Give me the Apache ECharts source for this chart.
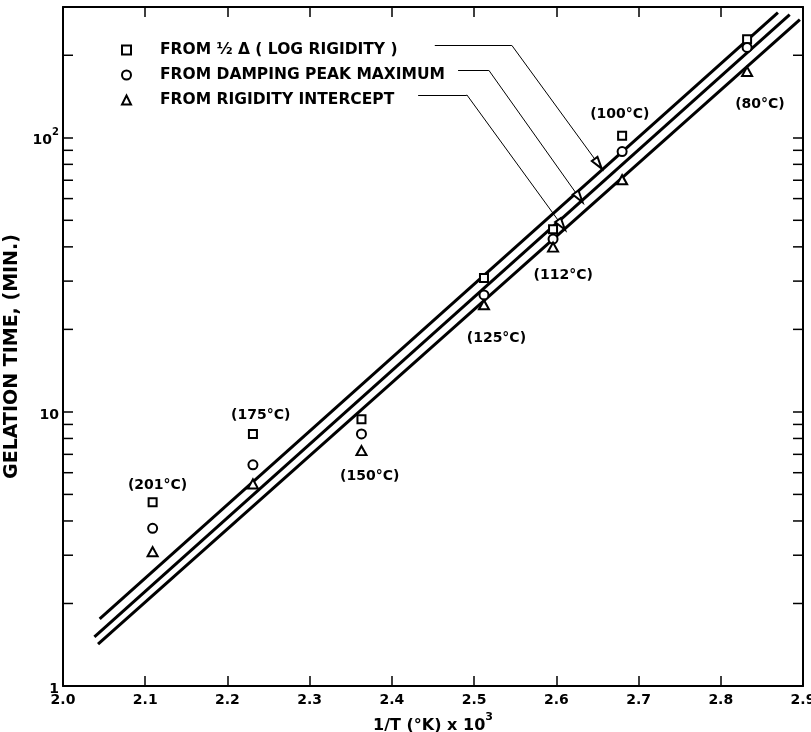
<!DOCTYPE html>
<html>
<head>
<meta charset="utf-8">
<script src="https://cdn.jsdelivr.net/npm/echarts@6/dist/echarts.min.js"></script>
<style>html,body{margin:0;padding:0;background:#fff}#c{width:811px;height:732px}</style>
</head>
<body>
<div id="c"></div>
<script>
// ---- data ----
const xTickValues = [2.0, 2.1, 2.2, 2.3, 2.4, 2.5, 2.6, 2.7, 2.8, 2.9];
const yMajorTicks = [1, 10, 100];
const yMinorTicks = [2, 3, 4, 5, 6, 7, 8, 9, 20, 30, 40, 50, 60, 70, 80, 90, 200];
const temperatures = ['(201°C)', '(175°C)', '(150°C)', '(125°C)', '(112°C)', '(100°C)', '(80°C)'];
const invT = [2.109, 2.231, 2.363, 2.512, 2.596, 2.680, 2.832];
const logRigidity = [4.68, 8.31, 9.4, 30.8, 46.4, 101.7, 229];
const dampingPeak = [3.76, 6.41, 8.31, 26.7, 42.7, 89.1, 213.6];
const rigidityIntercept = [3.09, 5.46, 7.22, 24.6, 39.9, 70.3, 174.6];
const fitLogRigidityX = [2.0446, 2.8695], fitLogRigidityY = [1.756, 285.9];
const fitDampingX = [2.0382, 2.8838], fitDampingY = [1.51, 281.2];
const fitInterceptX = [2.0426, 2.8962], fitInterceptY = [1.423, 269.6];
const tempLabelX = [2.115, 2.2405, 2.3731, 2.5271, 2.6083, 2.6772, 2.8476];
const tempLabelY = [5.41, 9.69, 5.81, 18.58, 31.6, 121.3, 131.9];
const leader1 = [[2.4522, 217.3], [2.5459, 217.3], [2.6509, 80.4]];
const leader2 = [[2.4805, 176.3], [2.5179, 176.3], [2.6277, 60.6]];
const leader3 = [[2.4319, 143.5], [2.4911, 143.5], [2.6063, 48.1]];
const seriesNames = ['FROM ½ Δ ( LOG RIGIDITY )', 'FROM DAMPING PEAK MAXIMUM', 'FROM RIGIDITY INTERCEPT'];
const xAxisTitle = ['1/T (°K) x 10', '3'];
const yAxisTitle = 'GELATION TIME, (MIN.)';

// ---- chart ----
const F = 'DejaVu Sans';
const chart = echarts.init(document.getElementById('c'), null, {renderer: 'canvas'});
const pair = (xs, ys) => xs.map((x, i) => [x, ys[i]]);
const axisLineStyle = {color: '#000', width: 2};
const tickStyle = {color: '#000', width: 1.5};

function leaderLines(pts) {
  return [
    [{coord: pts[0], symbol: 'none'}, {coord: pts[1], symbol: 'none'}],
    [{coord: pts[1], symbol: 'none'}, {coord: pts[2], symbol: 'emptyTriangle', symbolSize: [7, 12]}]
  ];
}

const option = {
  animation: false,
  backgroundColor: '#fff',
  grid: {left: 63, right: 8, top: 7, bottom: 46, outerBoundsMode: 'none', containLabel: false},
  legend: {
    show: true, orient: 'vertical', left: 116, top: 37,
    itemWidth: 9, itemHeight: 9, itemGap: 9,
    symbolKeepAspect: true,
    data: seriesNames,
    selectedMode: false,
    textStyle: {fontFamily: F, fontWeight: 'bold', fontSize: 15.5, color: '#000', padding: [0, 0, 0, 24]}
  },
  xAxis: [
    {
      type: 'value', min: 2.0, max: 2.9, interval: 0.1, position: 'bottom',
      axisLine: {show: true, onZero: false, lineStyle: axisLineStyle},
      axisTick: {show: true, inside: true, length: 10, lineStyle: tickStyle},
      axisLabel: {show: true, margin: 7, fontFamily: F, fontWeight: 'bold', fontSize: 14, color: '#000',
        formatter: v => v.toFixed(1)},
      splitLine: {show: false},
      name: '{b|' + xAxisTitle[0] + '}{s|' + xAxisTitle[1] + '}',
      nameLocation: 'middle', nameGap: 23,
      nameTextStyle: {
        rich: {
          b: {fontFamily: F, fontWeight: 'bold', fontSize: 16, color: '#000', lineHeight: 22, verticalAlign: 'bottom'},
          s: {fontFamily: F, fontWeight: 'bold', fontSize: 11, color: '#000', lineHeight: 12, verticalAlign: 'top'}
        }
      }
    },
    {
      type: 'value', min: 2.0, max: 2.9, interval: 0.1, position: 'top',
      axisLine: {show: true, onZero: false, lineStyle: axisLineStyle},
      axisTick: {show: true, inside: true, length: 10, lineStyle: tickStyle},
      axisLabel: {show: false}, splitLine: {show: false}
    }
  ],
  yAxis: [
    {
      type: 'log', logBase: 10, min: 1, max: 300, position: 'left',
      axisLine: {show: true, onZero: false, lineStyle: axisLineStyle},
      axisTick: {show: true, inside: true, length: 10, lineStyle: tickStyle},
      minorTick: {show: false}, splitLine: {show: false}, minorSplitLine: {show: false},
      axisLabel: {
        show: true, margin: 4, showMaxLabel: false,
        formatter: v => yMajorTicks.indexOf(v) < 0 ? '' : (v === 100 ? '{b|10}{s|2}' : '{b|' + v + '}'),
        rich: {
          b: {fontFamily: F, fontWeight: 'bold', fontSize: 14, color: '#000', lineHeight: 20, verticalAlign: 'bottom'},
          s: {fontFamily: F, fontWeight: 'bold', fontSize: 10, color: '#000', lineHeight: 10, verticalAlign: 'top'}
        }
      },
      name: yAxisTitle, nameLocation: 'middle', nameRotate: 90, nameGap: 34,
      nameTextStyle: {fontFamily: F, fontWeight: 'bold', fontSize: 19, color: '#000', padding: [0, 20, 0, 0]}
    },
    {
      type: 'log', logBase: 10, min: 1, max: 300, position: 'right',
      axisLine: {show: true, onZero: false, lineStyle: axisLineStyle},
      axisTick: {show: true, inside: true, length: 10, lineStyle: tickStyle},
      axisLabel: {show: false}, splitLine: {show: false}
    }
  ],
  series: [
    {
      name: 'fit1', type: 'line', data: pair(fitLogRigidityX, fitLogRigidityY), symbol: 'none',
      lineStyle: {color: '#000', width: 3}, silent: true, z: 2,
      markLine: {
        silent: true, animation: false, symbol: 'none',
        label: {show: false},
        lineStyle: {color: '#000', width: 1, type: 'solid'},
        emphasis: {disabled: true},
        data: leaderLines(leader1).concat(leaderLines(leader2), leaderLines(leader3))
      }
    },
    {name: 'fit2', type: 'line', data: pair(fitDampingX, fitDampingY), symbol: 'none',
      lineStyle: {color: '#000', width: 3}, silent: true, z: 2},
    {name: 'fit3', type: 'line', data: pair(fitInterceptX, fitInterceptY), symbol: 'none',
      lineStyle: {color: '#000', width: 3}, silent: true, z: 2},
    {
      name: 'minorTicks', type: 'custom', silent: true, z: 3, clip: false,
      data: yMinorTicks.map(v => [2.0, v]),
      renderItem: function (params, api) {
        const y = api.coord([2.0, api.value(1)])[1];
        const xl = api.coord([2.0, 1])[0];
        const xr = api.coord([2.9, 1])[0];
        return {
          type: 'group',
          children: [
            {type: 'line', shape: {x1: xl, y1: y, x2: xl + 10, y2: y}, style: {stroke: '#000', lineWidth: 1.5}},
            {type: 'line', shape: {x1: xr - 10, y1: y, x2: xr, y2: y}, style: {stroke: '#000', lineWidth: 1.5}}
          ]
        };
      }
    },
    {name: seriesNames[0], type: 'scatter', data: pair(invT, logRigidity), symbol: 'emptyRect', symbolSize: 8,
      itemStyle: {color: '#000', borderColor: '#000', borderWidth: 1.5, opacity: 1}, z: 5},
    {name: seriesNames[1], type: 'scatter', data: pair(invT, dampingPeak), symbol: 'emptyCircle', symbolSize: 9,
      itemStyle: {color: '#000', borderColor: '#000', borderWidth: 1.5, opacity: 1}, z: 5},
    {name: seriesNames[2], type: 'scatter', data: pair(invT, rigidityIntercept), symbol: 'emptyTriangle', symbolSize: [10, 9],
      itemStyle: {color: '#000', borderColor: '#000', borderWidth: 1.5, opacity: 1}, z: 5},
    {
      name: 'tempLabels', type: 'scatter', symbolSize: 0.1, silent: true, z: 6,
      itemStyle: {color: 'rgba(0,0,0,0)', opacity: 1},
      data: temperatures.map((t, i) => ({name: t, value: [tempLabelX[i], tempLabelY[i]]})),
      label: {show: true, position: 'inside', formatter: '{b}', fontFamily: F, fontWeight: 'bold', fontSize: 14,
        color: '#000', opacity: 1, textBorderWidth: 0}
    }
  ]
};
chart.setOption(option);
</script>
</body>
</html>
